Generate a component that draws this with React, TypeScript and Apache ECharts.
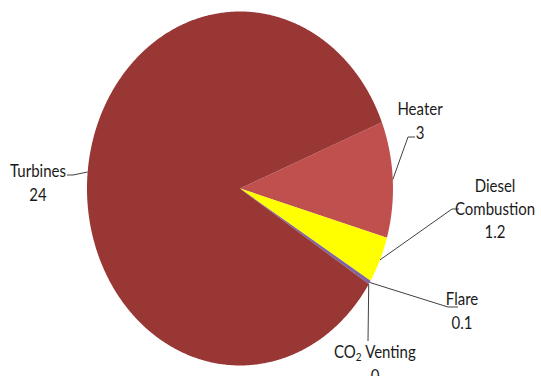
import React, { useEffect, useRef } from "react";
import * as echarts from "echarts";

const categories = ["Heater", "Diesel Combustion", "Flare", "CO2 Venting", "Turbines"];
const values = [3, 1.2, 0.1, 0, 24];
const labelNames = ["Heater", "Diesel\nCombustion", "Flare", "CO{sub|2} Venting", "Turbines"];
const colors = ["#C0504D", "#FFFF00", "#8064A2", "#4BACC6", "#993735"];

// label layout (pixels): elbow, end of leader line, text centre
const elbows = [[408, 137], [452, 209], [448, 307], [368, 341], [73, 175]];
const lineEnds = [[415, 137], [459, 209], [458, 307], [368, 341], [67, 175]];
const textPos = [[420, 120], [495, 208], [462, 310], [375, 363], [38, 182]];

export default function App() {
  const ref = useRef<HTMLDivElement>(null);
  useEffect(() => {
    if (!ref.current) return;
    const chart = echarts.init(ref.current, null, { renderer: "svg" });
    const total = values.reduce((a, b) => a + b, 0);
    const startDeg = 68;
    const starts: number[] = [];
    const ends: number[] = [];
    let acc = startDeg;
    values.forEach((v) => {
      starts.push(acc);
      acc += (v / total) * 360;
      ends.push(acc);
    });
    chart.setOption({
      animation: false,
      series: [
        {
          type: "custom",
          coordinateSystem: "none",
          data: values.map((v, i) => ({ name: categories[i], value: v })),
          renderItem: (params: any, api: any) => {
            const i = params.dataIndex;
            const W = api.getWidth();
            const H = api.getHeight();
            const cx = W * 0.4436;
            const cy = H * 0.5013;
            const rx = W * 0.2828;
            const ry = H * 0.4707;
            const pt = (deg: number) => {
              const r = (deg * Math.PI) / 180;
              return [cx + rx * Math.sin(r), cy - ry * Math.cos(r)];
            };
            const s = starts[i];
            const e = ends[i];
            const children: any[] = [];
            if (values[i] > 0) {
              const pts: number[][] = [[cx, cy]];
              const n = Math.max(2, Math.ceil((e - s) / 0.5));
              for (let k = 0; k <= n; k++) pts.push(pt(s + ((e - s) * k) / n));
              children.push({
                type: "polygon",
                shape: { points: pts },
                style: { fill: colors[i] },
              });
            }
            const a = pt((s + e) / 2);
            children.push({
              type: "polyline",
              z2: 10,
              shape: { points: [a, elbows[i], lineEnds[i]] },
              style: { stroke: "#404040", lineWidth: 1, fill: null },
            });
            children.push({
              type: "text",
              z2: 11,
              x: textPos[i][0],
              y: textPos[i][1],
              scaleY: 1.16,
              style: {
                text: labelNames[i] + "\n" + values[i],
                x: 0,
                y: 0,
                align: "center",
                verticalAlign: "middle",
                fontFamily: "Lato",
                fontSize: 15,
                lineHeight: 20,
                fill: "#1a1a1a",
                rich: {
                  sub: { fontSize: 10, fontFamily: "Lato", fill: "#1a1a1a", lineHeight: 20, padding: [8, 0, 0, 0] },
                },
              },
            });
            return { type: "group", children };
          },
        },
      ],
    });
    return () => chart.dispose();
  }, []);
  return (
    <div
      ref={ref}
      style={{ position: "fixed", left: 0, top: 0, width: 541, height: 376, background: "#fff" }}
    />
  );
}
